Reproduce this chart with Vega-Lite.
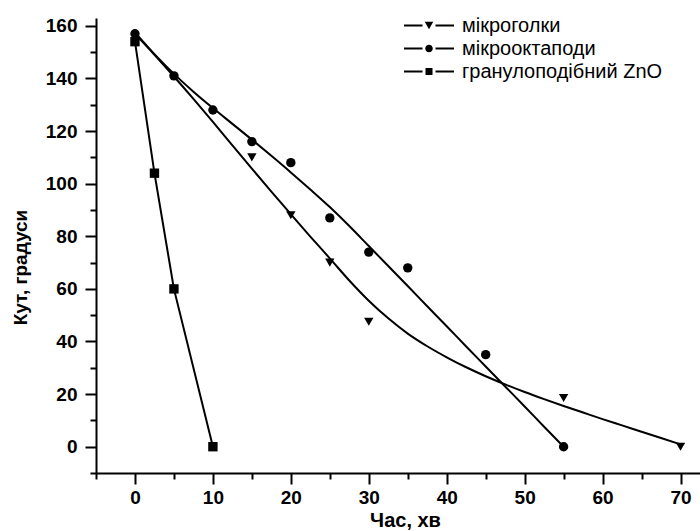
{
  "$schema": "https://vega.github.io/schema/vega-lite/v6.json",
  "width": 604,
  "height": 455,
  "autosize": {"type": "none"},
  "padding": {"left": 96, "top": 18, "right": 0, "bottom": 58},
  "background": "white",
  "config": {
    "view": {"stroke": null},
    "font": "Liberation Sans",
    "axis": {
      "grid": false,
      "domainColor": "black",
      "domainWidth": 2,
      "tickColor": "black",
      "tickWidth": 2,
      "labelColor": "black",
      "labelFont": "Liberation Sans",
      "labelFontSize": 19,
      "labelFontWeight": "bold",
      "titleColor": "black",
      "titleFont": "Liberation Sans"
    }
  },
  "datasets": {
    "points": [
      {"series": "мікроголки", "t": 15, "angle": 110},
      {"series": "мікроголки", "t": 20, "angle": 88},
      {"series": "мікроголки", "t": 25, "angle": 70},
      {"series": "мікроголки", "t": 30, "angle": 47.5},
      {"series": "мікроголки", "t": 55, "angle": 18.5},
      {"series": "мікроголки", "t": 70, "angle": 0},
      {"series": "гранулоподібний ZnO", "t": 0, "angle": 154},
      {"series": "гранулоподібний ZnO", "t": 2.5, "angle": 104},
      {"series": "гранулоподібний ZnO", "t": 5, "angle": 60},
      {"series": "гранулоподібний ZnO", "t": 10, "angle": 0},
      {"series": "мікрооктаподи", "t": 0, "angle": 157},
      {"series": "мікрооктаподи", "t": 5, "angle": 141},
      {"series": "мікрооктаподи", "t": 10, "angle": 128},
      {"series": "мікрооктаподи", "t": 15, "angle": 116},
      {"series": "мікрооктаподи", "t": 20, "angle": 108},
      {"series": "мікрооктаподи", "t": 25, "angle": 87},
      {"series": "мікрооктаподи", "t": 30, "angle": 74},
      {"series": "мікрооктаподи", "t": 35, "angle": 68},
      {"series": "мікрооктаподи", "t": 45, "angle": 35},
      {"series": "мікрооктаподи", "t": 55, "angle": 0}
    ],
    "curves": [
      {"series": "мікроголки", "t": 0, "angle": 157},
      {"series": "мікроголки", "t": 2.5, "angle": 149},
      {"series": "мікроголки", "t": 5, "angle": 140.75},
      {"series": "мікроголки", "t": 7.5, "angle": 132.25},
      {"series": "мікроголки", "t": 10, "angle": 123.5},
      {"series": "мікроголки", "t": 12.5, "angle": 114.6},
      {"series": "мікроголки", "t": 15, "angle": 105.75},
      {"series": "мікроголки", "t": 17.5, "angle": 97},
      {"series": "мікроголки", "t": 20, "angle": 88.4},
      {"series": "мікроголки", "t": 22.5, "angle": 79.9},
      {"series": "мікроголки", "t": 25, "angle": 71.6},
      {"series": "мікроголки", "t": 27.5, "angle": 63.2},
      {"series": "мікроголки", "t": 30, "angle": 55.5},
      {"series": "мікроголки", "t": 32.5, "angle": 48.8},
      {"series": "мікроголки", "t": 35, "angle": 43},
      {"series": "мікроголки", "t": 37.5, "angle": 38.2},
      {"series": "мікроголки", "t": 40, "angle": 34},
      {"series": "мікроголки", "t": 42.5, "angle": 30.2},
      {"series": "мікроголки", "t": 45, "angle": 26.8},
      {"series": "мікроголки", "t": 47.5, "angle": 23.7},
      {"series": "мікроголки", "t": 50, "angle": 20.8},
      {"series": "мікроголки", "t": 52.5, "angle": 18.1},
      {"series": "мікроголки", "t": 55, "angle": 15.5},
      {"series": "мікроголки", "t": 57.5, "angle": 13},
      {"series": "мікроголки", "t": 60, "angle": 10.5},
      {"series": "мікроголки", "t": 62.5, "angle": 8.1},
      {"series": "мікроголки", "t": 65, "angle": 5.7},
      {"series": "мікроголки", "t": 67.5, "angle": 3.3},
      {"series": "мікроголки", "t": 70, "angle": 0.9},
      {"series": "мікрооктаподи", "t": 0, "angle": 157.5},
      {"series": "мікрооктаподи", "t": 2.5, "angle": 149.25},
      {"series": "мікрооктаподи", "t": 5, "angle": 141.75},
      {"series": "мікрооктаподи", "t": 7.5, "angle": 135},
      {"series": "мікрооктаподи", "t": 10, "angle": 128.75},
      {"series": "мікрооктаподи", "t": 12.5, "angle": 122.75},
      {"series": "мікрооктаподи", "t": 15, "angle": 116.75},
      {"series": "мікрооктаподи", "t": 17.5, "angle": 110.6},
      {"series": "мікрооктаподи", "t": 20, "angle": 104.3},
      {"series": "мікрооктаподи", "t": 22.5, "angle": 97.8},
      {"series": "мікрооктаподи", "t": 25, "angle": 91.1},
      {"series": "мікрооктаподи", "t": 27.5, "angle": 83.9},
      {"series": "мікрооктаподи", "t": 30, "angle": 76.3},
      {"series": "мікрооктаподи", "t": 32.5, "angle": 68.7},
      {"series": "мікрооктаподи", "t": 35, "angle": 61.1},
      {"series": "мікрооктаподи", "t": 37.5, "angle": 53.4},
      {"series": "мікрооктаподи", "t": 40, "angle": 45.8},
      {"series": "мікрооктаподи", "t": 42.5, "angle": 38.1},
      {"series": "мікрооктаподи", "t": 45, "angle": 30.5},
      {"series": "мікрооктаподи", "t": 47.5, "angle": 22.9},
      {"series": "мікрооктаподи", "t": 50, "angle": 15.3},
      {"series": "мікрооктаподи", "t": 52.5, "angle": 7.6},
      {"series": "мікрооктаподи", "t": 55, "angle": 0}
    ]
  },
  "layer": [
    {
      "data": {"name": "curves"},
      "mark": {"type": "line", "color": "black", "strokeWidth": 2, "interpolate": "monotone"},
      "encoding": {
        "x": {
          "field": "t", "type": "quantitative",
          "scale": {"domain": [-5, 72.5], "nice": false, "zero": false},
          "axis": {
            "orient": "bottom",
            "values": [0, 10, 20, 30, 40, 50, 60, 70],
            "tickSize": 11,
            "labelPadding": 4,
            "title": "Час, хв",
            "titleFontSize": 20,
            "titleFontWeight": "bold",
            "titleX": 309,
            "titleY": 53,
            "titleAlign": "center",
            "titleBaseline": "alphabetic"
          }
        },
        "y": {
          "field": "angle", "type": "quantitative",
          "scale": {"domain": [-10, 163], "nice": false, "zero": false},
          "axis": {
            "orient": "left",
            "values": [0, 20, 40, 60, 80, 100, 120, 140, 160],
            "tickSize": 11,
            "labelPadding": 8,
            "title": "Кут, градуси",
            "titleFontSize": 19,
            "titleFontWeight": "bold",
            "titleAngle": -90,
            "titleX": -70,
            "titleY": 249,
            "titleAlign": "center",
            "titleBaseline": "alphabetic"
          }
        },
        "detail": {"field": "series"}
      }
    },
    {
      "data": {"name": "points"},
      "transform": [{"filter": "datum.series === 'гранулоподібний ZnO'"}],
      "mark": {"type": "line", "color": "black", "strokeWidth": 2},
      "encoding": {
        "x": {
          "field": "t", "type": "quantitative",
          "scale": {"domain": [-5, 72.5], "nice": false, "zero": false},
          "axis": {
            "orient": "bottom",
            "values": [-5, 5, 15, 25, 35, 45, 55, 65],
            "tickSize": 6,
            "labels": false,
            "domain": false,
            "title": null
          }
        },
        "y": {
          "field": "angle", "type": "quantitative",
          "scale": {"domain": [-10, 163], "nice": false, "zero": false},
          "axis": {
            "orient": "left",
            "values": [-10, 10, 30, 50, 70, 90, 110, 130, 150],
            "tickSize": 6,
            "labels": false,
            "domain": false,
            "title": null
          }
        }
      }
    },
    {
      "data": {"name": "points"},
      "mark": {"type": "point", "filled": true, "color": "black", "opacity": 1, "size": 88},
      "encoding": {
        "x": {"field": "t", "type": "quantitative", "axis": null},
        "y": {"field": "angle", "type": "quantitative", "axis": null},
        "shape": {
          "field": "series", "type": "nominal",
          "scale": {
            "domain": ["мікроголки", "мікрооктаподи", "гранулоподібний ZnO"],
            "range": ["triangle-down", "circle", "square"]
          },
          "legend": null
        }
      }
    },
    {
      "data": {"name": "points"},
      "mark": {"type": "point", "filled": true, "color": "black", "opacity": 0},
      "encoding": {
        "x": {"field": "t", "type": "quantitative", "axis": null},
        "y": {"field": "angle", "type": "quantitative", "axis": null},
        "shape": {
          "field": "series", "type": "nominal",
          "scale": {
            "domain": ["мікроголки", "мікрооктаподи", "гранулоподібний ZnO"],
            "range": [
              "M-5,-0.2H-1.3V0.2H-5Z M1.3,-0.2H5V0.2H1.3Z M-0.85,-0.75H0.85L0,0.75Z",
              "M-5,-0.2H-1.3V0.2H-5Z M1.3,-0.2H5V0.2H1.3Z M-0.75,0A0.75,0.75 0 1,0 0.75,0A0.75,0.75 0 1,0 -0.75,0Z",
              "M-5,-0.2H-1.3V0.2H-5Z M1.3,-0.2H5V0.2H1.3Z M-0.7,-0.7H0.7V0.7H-0.7Z"
            ]
          },
          "legend": {
            "title": null,
            "orient": "none",
            "legendX": 323,
            "legendY": -2.5,
            "padding": 0,
            "symbolSize": 100,
            "symbolFillColor": "black",
            "symbolStrokeWidth": 0,
            "symbolOpacity": 1,
            "labelFont": "Liberation Sans",
            "labelFontSize": 20,
            "labelColor": "black",
            "labelLimit": 0,
            "labelOffset": 23,
            "rowPadding": 3
          }
        }
      }
    }
  ],
  "resolve": {
    "scale": {"shape": "independent"},
    "axis": {"x": "independent", "y": "independent"}
  }
}
